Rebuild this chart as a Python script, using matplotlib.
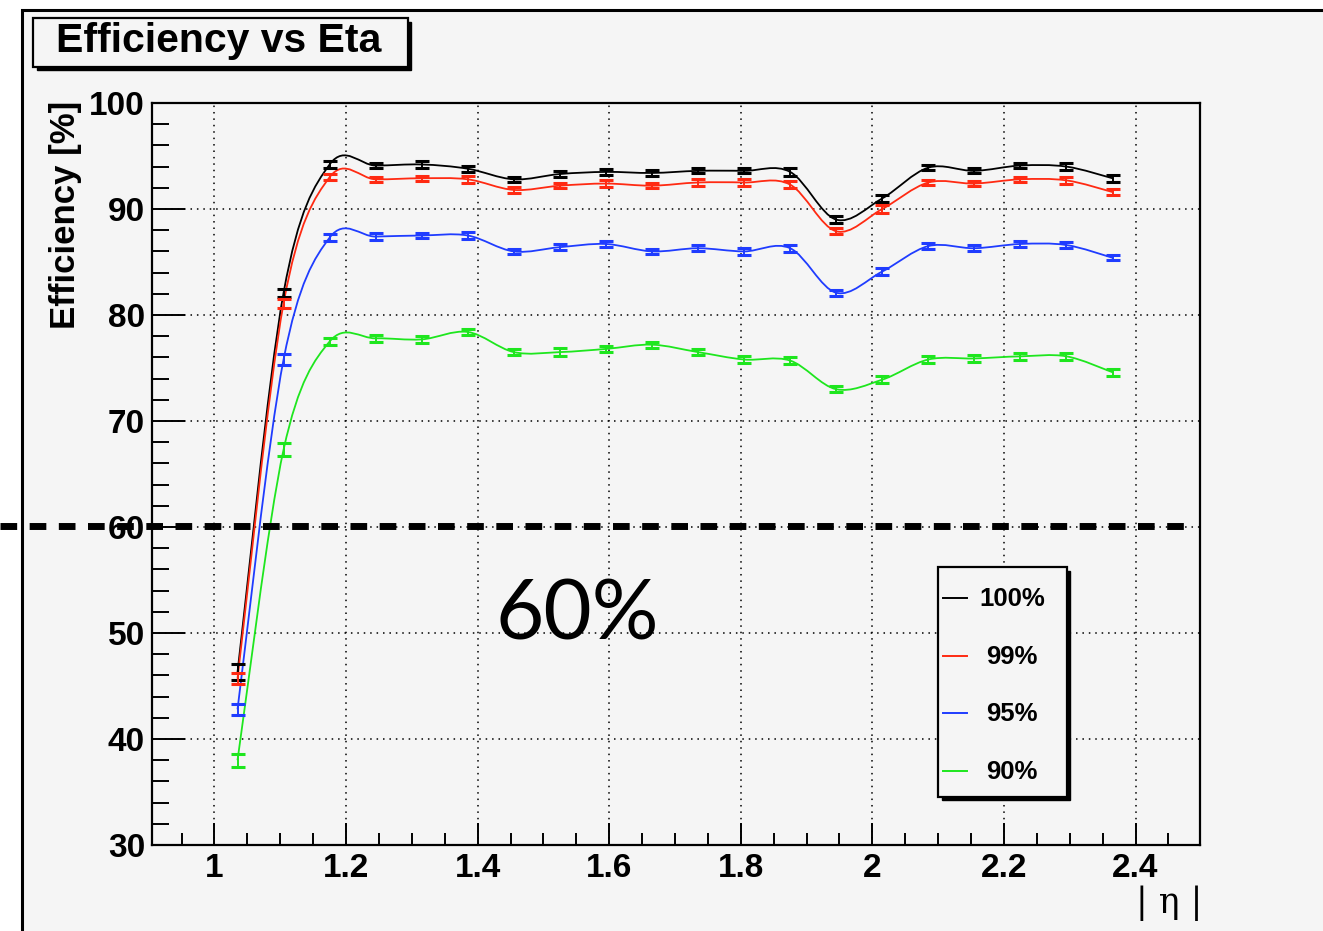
import numpy as np
import matplotlib
matplotlib.use("Agg")
import matplotlib.pyplot as plt
from matplotlib.path import Path
from matplotlib.patches import PathPatch, Rectangle
from matplotlib.lines import Line2D

W, H = 1323, 931

# bin centres in |eta|
eta = [1.035, 1.105, 1.175, 1.245, 1.315, 1.385, 1.455, 1.525, 1.595, 1.665,
       1.735, 1.805, 1.875, 1.945, 2.015, 2.085, 2.155, 2.225, 2.295, 2.365]

eff_100 = [46.3, 82.1, 94.2, 94.1, 94.2, 93.8, 92.8, 93.3, 93.5, 93.4,
           93.6, 93.6, 93.5, 89.0, 91.0, 93.9, 93.6, 94.1, 94.0, 92.9]
eff_99 = [45.7, 81.1, 93.0, 92.8, 92.9, 92.8, 91.8, 92.2, 92.4, 92.2,
          92.5, 92.5, 92.3, 87.9, 90.0, 92.5, 92.4, 92.8, 92.7, 91.6]
eff_95 = [42.8, 75.8, 87.3, 87.4, 87.5, 87.5, 86.0, 86.4, 86.7, 86.0,
          86.3, 86.0, 86.3, 82.1, 84.1, 86.5, 86.3, 86.7, 86.6, 85.4]
eff_90 = [38.0, 67.3, 77.5, 77.8, 77.7, 78.4, 76.5, 76.5, 76.8, 77.2,
          76.5, 75.8, 75.7, 73.0, 73.9, 75.8, 75.9, 76.1, 76.1, 74.6]

err_100 = [0.75, 0.4, 0.3, 0.25, 0.3, 0.3, 0.25, 0.25, 0.25, 0.25,
           0.25, 0.25, 0.35, 0.3, 0.35, 0.25, 0.25, 0.25, 0.3, 0.35]
err_99 = [0.5, 0.45, 0.3, 0.25, 0.25, 0.3, 0.25, 0.25, 0.3, 0.25,
          0.3, 0.3, 0.35, 0.3, 0.35, 0.25, 0.25, 0.25, 0.3, 0.25]
err_95 = [0.5, 0.5, 0.3, 0.3, 0.25, 0.3, 0.25, 0.3, 0.3, 0.25,
          0.3, 0.3, 0.35, 0.3, 0.35, 0.3, 0.3, 0.3, 0.25, 0.25]
err_90 = [0.6, 0.6, 0.35, 0.35, 0.35, 0.3, 0.3, 0.35, 0.3, 0.3,
          0.3, 0.3, 0.3, 0.3, 0.3, 0.3, 0.3, 0.3, 0.3, 0.35]

labels = ["100%", "99%", "95%", "90%"]
colors = ["black", "#ff2a12", "#1f3cff", "#1ee61e"]
series = [eff_100, eff_99, eff_95, eff_90]
errors = [err_100, err_99, err_95, err_90]

bg = "#f5f5f5"


def fx(px):
    return px / W


def fy(py):
    return 1 - py / H


def smooth_path(x, y):
    # Catmull-Rom through the points, drawn as cubic beziers (like ROOT "C")
    x = np.asarray(x, float)
    y = np.asarray(y, float)
    px = np.concatenate([[x[0]], x, [x[-1]]])
    py = np.concatenate([[y[0]], y, [y[-1]]])
    verts = [(x[0], y[0])]
    codes = [Path.MOVETO]
    for i in range(1, len(px) - 2):
        c1 = (px[i] + (px[i + 1] - px[i - 1]) / 6, py[i] + (py[i + 1] - py[i - 1]) / 6)
        c2 = (px[i + 1] - (px[i + 2] - px[i]) / 6, py[i + 1] - (py[i + 2] - py[i]) / 6)
        verts += [c1, c2, (px[i + 1], py[i + 1])]
        codes += [Path.CURVE4] * 3
    return Path(verts, codes)


fig = plt.figure(figsize=(W / 100, H / 100), dpi=100)
fig.patch.set_facecolor("white")

# canvas frame (cut off at right and bottom)
fig.add_artist(Rectangle((fx(22), -0.05), 1.1, fy(10) + 0.05, transform=fig.transFigure,
                         facecolor=bg, edgecolor="black", lw=2.2, zorder=0))

ax = fig.add_axes([fx(152), fy(845), fx(1200) - fx(152), fy(103) - fy(845)])
ax.set_facecolor(bg)
ax.set_xlim(0.905, 2.498)
ax.set_ylim(30, 100)

ax.set_xticks(np.arange(1.0, 2.41, 0.2))
ax.set_xticklabels(["1", "1.2", "1.4", "1.6", "1.8", "2", "2.2", "2.4"])
ax.set_xticks(np.arange(0.95, 2.5, 0.05), minor=True)
ax.set_yticks(np.arange(30, 101, 10))
ax.set_yticks(np.arange(30, 100, 2), minor=True)

ax.tick_params(axis="x", which="major", direction="in", length=16, width=1.4, pad=6)
ax.tick_params(axis="x", which="minor", direction="in", length=8.6, width=1.4)
ax.tick_params(axis="y", which="major", direction="in", length=24, width=1.4, pad=5)
ax.tick_params(axis="y", which="minor", direction="in", length=12, width=1.4)
for lab in ax.get_xticklabels() + ax.get_yticklabels():
    lab.set_fontfamily("Liberation Sans")
    lab.set_fontweight("bold")
    lab.set_fontsize(24)
for sp in ax.spines.values():
    sp.set_linewidth(1.6)

ax.grid(True, which="major", color="black", lw=1.1, linestyle=(0, (1, 3.2)), zorder=1)
ax.set_axisbelow(True)

for y, e, c in zip(series, errors, colors):
    ax.add_patch(PathPatch(smooth_path(eta, y), facecolor="none", edgecolor=c, lw=1.3, zorder=3))
    ax.errorbar(eta, y, yerr=e, fmt="none", ecolor=c, elinewidth=1.4, capsize=5, capthick=2.2, zorder=4)

# 60% reference line across the canvas
fig.add_artist(Line2D([0, fx(1188)], [fy(526), fy(526)], transform=fig.transFigure,
                      color="black", lw=5, dashes=(2.4, 1.8), zorder=10))
fig.text(fx(577), fy(617), "60%", fontsize=60, family="Lato", ha="center", va="center", zorder=11)

# title box
fig.add_artist(Rectangle((fx(37), fy(70)), fx(411) - fx(37), fy(22) - fy(70),
                         transform=fig.transFigure, facecolor="black", edgecolor="black", zorder=5))
fig.add_artist(Rectangle((fx(33), fy(67)), fx(408) - fx(33), fy(18) - fy(67),
                         transform=fig.transFigure, facecolor=bg, edgecolor="black", lw=1.6, zorder=6))
fig.text(fx(219), fy(41), "Efficiency vs Eta", fontsize=29.5, family="Liberation Sans",
         weight="bold", ha="center", va="center", zorder=7)

# axis titles
fig.text(fx(65), fy(101), "Efficiency [%]", fontsize=25, family="Liberation Sans", weight="bold",
         rotation=90, ha="center", va="top")
fig.text(fx(1202), fy(903), "| \u03b7 |", fontsize=25, family="DejaVu Serif", ha="right", va="center")

# legend
fig.add_artist(Rectangle((fx(942), fy(800)), fx(1070) - fx(942), fy(571) - fy(800),
                         transform=fig.transFigure, facecolor="black", edgecolor="black", zorder=12))
fig.add_artist(Rectangle((fx(938), fy(797)), fx(1067) - fx(938), fy(567) - fy(797),
                         transform=fig.transFigure, facecolor=bg, edgecolor="black", lw=1.6, zorder=13))
for i, (lab, c) in enumerate(zip(labels, colors)):
    yy = 598 + i * 57.7
    fig.add_artist(Line2D([fx(943), fx(967)], [fy(yy), fy(yy)], transform=fig.transFigure,
                          color=c, lw=1.4, zorder=14))
    fig.text(fx(1012), fy(yy + 1), lab, fontsize=18.5, family="Liberation Sans", weight="bold",
             ha="center", va="center", zorder=14)

fig.savefig("out.png", dpi=100, facecolor=fig.get_facecolor())
